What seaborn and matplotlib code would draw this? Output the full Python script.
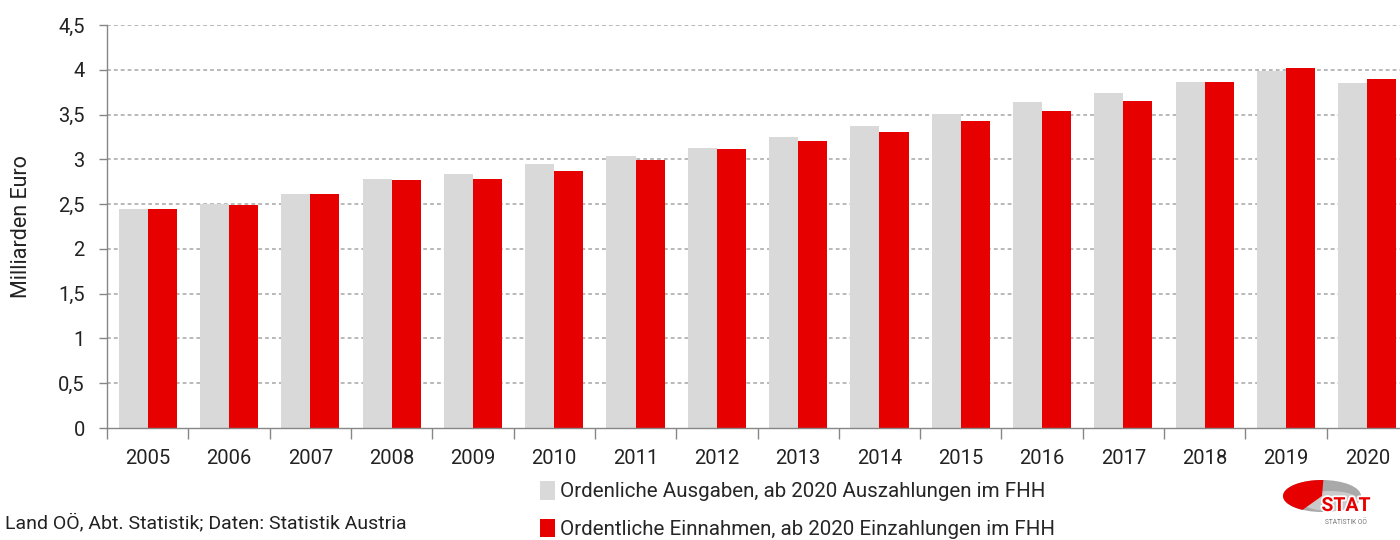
import matplotlib
matplotlib.use("Agg")
import matplotlib.pyplot as plt
import seaborn as sns
import pandas as pd
import numpy as np
from matplotlib.patches import Ellipse, Polygon, Patch
import matplotlib.patheffects as pe

years = [str(y) for y in range(2005, 2021)]
ausgaben = [2.45, 2.50, 2.61, 2.78, 2.84, 2.945, 3.04, 3.13, 3.25, 3.37, 3.51, 3.645, 3.745, 3.86, 3.985, 3.85]
einnahmen = [2.44, 2.49, 2.61, 2.77, 2.78, 2.865, 2.99, 3.11, 3.21, 3.31, 3.43, 3.54, 3.65, 3.865, 4.02, 3.90]
series_names = ["Ordenliche Ausgaben, ab 2020 Auszahlungen im FHH",
                "Ordentliche Einnahmen, ab 2020 Einzahlungen im FHH"]
y_ticks = [0, 0.5, 1, 1.5, 2, 2.5, 3, 3.5, 4, 4.5]
y_tick_labels = ["0", "0,5", "1", "1,5", "2", "2,5", "3", "3,5", "4", "4,5"]
y_label = "Milliarden Euro"
source = "Land OÖ, Abt. Statistik; Daten: Statistik Austria"

GRAY = "#D9D9D9"
RED = "#E60000"

df = pd.DataFrame({
    "Jahr": years * 2,
    "Wert": ausgaben + einnahmen,
    "Serie": [series_names[0]] * len(years) + [series_names[1]] * len(years),
})

sns.set_theme(style="white")
plt.rcParams["font.family"] = ["Roboto", "DejaVu Sans"]

fig = plt.figure(figsize=(14, 5.4), dpi=100)
ax = fig.add_axes([107 / 1400, 1 - 428 / 540, 1301 / 1400, (428 - 25) / 540])

sns.barplot(data=df, x="Jahr", y="Wert", hue="Serie", palette=[GRAY, RED],
            width=0.715, gap=0, ax=ax, legend=False, saturation=1, linewidth=0)

ax.set_ylim(0, 4.5)
ax.set_xlim(-0.5, len(years) - 0.5)
ax.set_yticks(y_ticks)
ax.set_yticklabels(y_tick_labels, fontsize=14.5, color="#222222")
ax.set_xlabel("")
ax.set_ylabel(y_label, fontsize=15.5, color="#222222", labelpad=19)

for yv in y_ticks[1:]:
    ax.axhline(yv, color="#A6A6A6", lw=1.1, ls=(0, (2.5, 2)), zorder=0)

for s in ["top", "right"]:
    ax.spines[s].set_visible(False)
for s in ["left", "bottom"]:
    ax.spines[s].set_color("#868686")
    ax.spines[s].set_linewidth(1.0)

ax.tick_params(axis="y", length=6, width=1, color="#868686", pad=10, left=True)
ax.tick_params(axis="x", which="major", length=0, pad=15, labelsize=14.5, labelcolor="#222222")
ax.set_xticks([i - 0.5 for i in range(len(years) + 1)], minor=True)
ax.tick_params(axis="x", which="minor", length=8, width=1, color="#868686", bottom=True)

# legend
handles = [Patch(facecolor=GRAY, edgecolor="none"), Patch(facecolor=RED, edgecolor="none")]
fig.legend(handles, series_names, loc="upper left", bbox_to_anchor=(532 / 1400, 1 - 473 / 540),
           frameon=False, fontsize=14.8, handlelength=0.7, handleheight=1.0, handletextpad=0.25,
           labelspacing=0.85, borderaxespad=0)

fig.text(5 / 1400, 1 - 523 / 540, source, fontsize=14, color="#222222", va="center", ha="left")

# logo (pixel coordinates)
lax = fig.add_axes([1280 / 1400, 1 - 535 / 540, 120 / 1400, 65 / 540])
lax.set_xlim(1280, 1400)
lax.set_ylim(535, 470)
lax.axis("off")
cx, cy, a, b = 1322, 496, 39, 16
lax.add_patch(Ellipse((cx, cy), 2 * a, 2 * b, facecolor="#A9A9A9", edgecolor="none"))
lax.add_patch(Ellipse((cx + 8, cy + 5), 2 * a - 20, 2 * b - 12, facecolor="#CACACA", edgecolor="none"))
t = np.radians(np.linspace(88, 240, 60))
pts = [(cx, cy)] + [(cx + a * np.cos(tt), cy - b * np.sin(tt)) for tt in t]
lax.add_patch(Polygon(pts, closed=True, facecolor=RED, edgecolor="none"))
lax.text(1346, 506, "STAT", color=RED, fontsize=14, fontweight="bold", ha="center", va="center",
         path_effects=[pe.withStroke(linewidth=2.5, foreground="white")])
lax.text(1346, 523, "STATISTIK OÖ", color="#777777", fontsize=4.8, ha="center", va="center")

fig.savefig("out.png", dpi=100)
